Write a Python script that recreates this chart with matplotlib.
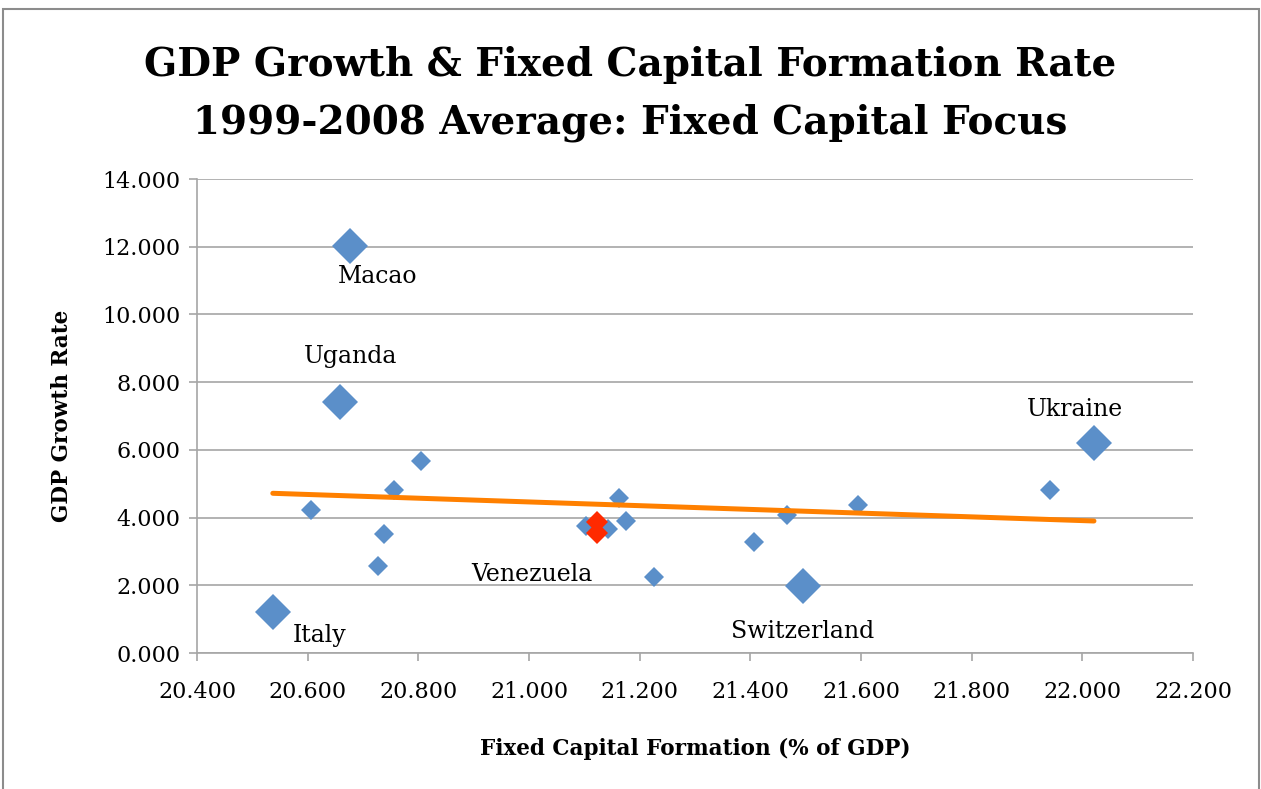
import matplotlib
matplotlib.use("Agg")
import matplotlib.pyplot as plt
from matplotlib.patches import Rectangle

plt.rcParams['font.family'] = ['DejaVu Serif']

# small blue points
x_small = [20.606, 20.727, 20.738, 20.756, 20.805, 21.103, 21.143, 21.175, 21.163,
           21.226, 21.407, 21.466, 21.595, 21.942]
y_small = [4.224, 2.570, 3.515, 4.814, 5.671, 3.751, 3.663, 3.899, 4.578,
           2.245, 3.278, 4.076, 4.371, 4.814]

# labelled countries (big markers)
big_names = ["Italy", "Uganda", "Macao", "Switzerland", "Ukraine"]
x_big = [20.537, 20.658, 20.677, 21.495, 22.021]
y_big = [1.211, 7.413, 12.021, 1.979, 6.202]

# Venezuela highlighted
x_red = [21.123, 21.123]
y_red = [3.869, 3.544]

# linear trend, read at the ends
trend_x = [20.537, 22.021]
trend_y = [4.717, 3.899]

xticks = [20.4, 20.6, 20.8, 21.0, 21.2, 21.4, 21.6, 21.8, 22.0, 22.2]
yticks = [0, 2, 4, 6, 8, 10, 12, 14]

blue = "#5b8fc9"
red = "#ff2a00"
orange = "#ff8000"
grey = "#a6a6a6"

fig = plt.figure(figsize=(12.61, 7.89), dpi=100)
ax = fig.add_axes([197/1261, 1-653/789, 996/1261, 474/789])

ax.plot(x_small, y_small, linestyle="none", marker="D", markersize=10.2,
        color=blue, markeredgewidth=0, zorder=3)
ax.plot(x_big, y_big, linestyle="none", marker="D", markersize=18.3,
        color=blue, markeredgewidth=0, zorder=3)
ax.plot(x_red, y_red, linestyle="none", marker="D", markersize=11,
        color=red, markeredgewidth=0, zorder=4)
ax.plot(trend_x, trend_y, color=orange, linewidth=3.6, solid_capstyle="round", zorder=5)

# labels next to points (offsets in points)
lbl = {"Italy": (34, -17), "Uganda": (8, 33), "Macao": (20, -22),
       "Switzerland": (0, -33), "Ukraine": (-14, 24)}
for n, xv, yv in zip(big_names, x_big, y_big):
    dx, dy = lbl[n]
    ax.annotate(n, (xv, yv), xytext=(dx, dy), textcoords="offset points",
                ha="center", va="center", fontsize=17)
ax.annotate("Venezuela", (x_red[1], y_red[1]), xytext=(-47, -30),
            textcoords="offset points", ha="center", va="center", fontsize=17)

ax.set_xlim(20.4, 22.2)
ax.set_ylim(0, 14)
ax.set_xticks(xticks)
ax.set_yticks(yticks)
ax.set_xticklabels(["%.3f" % v for v in xticks], fontsize=16)
ax.set_yticklabels(["%.3f" % v for v in yticks], fontsize=16)
ax.tick_params(axis="both", direction="out", length=6, color=grey, width=1.2, pad=6)
ax.tick_params(axis="x", pad=14)
ax.grid(axis="y", color=grey, linewidth=1.2)
ax.set_axisbelow(True)
for s in ["top", "right"]:
    ax.spines[s].set_visible(False)
for s in ["left", "bottom"]:
    ax.spines[s].set_color(grey)
    ax.spines[s].set_linewidth(1.2)

ax.set_xlabel("Fixed Capital Formation (% of GDP)", fontsize=15.5, fontweight="bold", labelpad=25)
ax.set_ylabel("GDP Growth Rate", fontsize=15.5, fontweight="bold", labelpad=21)

fig.text(0.5, 1-65/789, "GDP Growth & Fixed Capital Formation Rate", ha="center", va="center",
         fontsize=28, fontweight="bold")
fig.text(0.5, 1-123/789, "1999-2008 Average: Fixed Capital Focus", ha="center", va="center",
         fontsize=28, fontweight="bold")

# outer frame
fig.patches.append(Rectangle((3/1261, -0.05), 1256/1261, 1.05-9/789, transform=fig.transFigure,
                             fill=False, edgecolor="#8c8c8c", linewidth=1.5))

fig.savefig("out.png", dpi=100)
